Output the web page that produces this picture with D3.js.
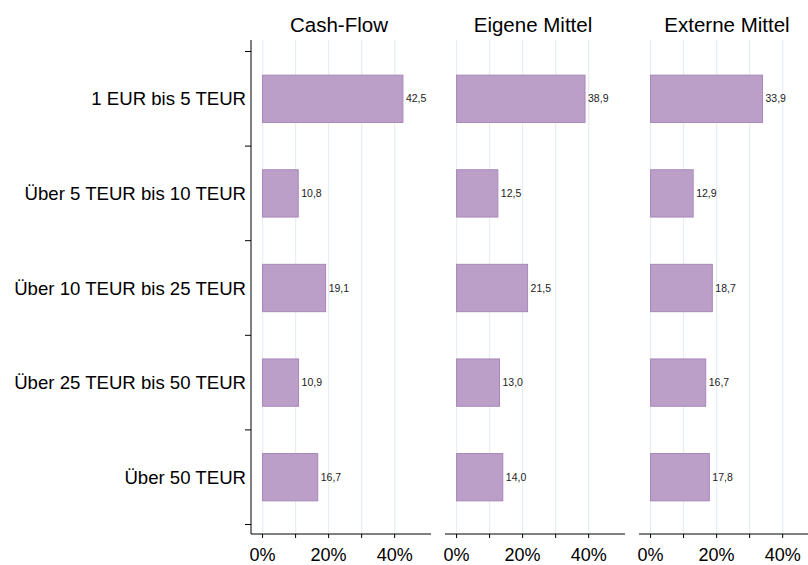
<!DOCTYPE html>
<html>
<head>
<meta charset="utf-8">
<script src="https://cdn.jsdelivr.net/npm/d3@7"></script>
<style>
body { margin: 0; background: #fff; }
svg { font-family: "Liberation Sans", Arial, sans-serif; }
</style>
</head>
<body>
<div id="chart"></div>
<script>
var categories = ["1 EUR bis 5 TEUR", "Über 5 TEUR bis 10 TEUR", "Über 10 TEUR bis 25 TEUR", "Über 25 TEUR bis 50 TEUR", "Über 50 TEUR"];
var panels = ["Cash-Flow", "Eigene Mittel", "Externe Mittel"];
var cashFlow = [42.5, 10.8, 19.1, 10.9, 16.7];
var eigeneMittel = [38.9, 12.5, 21.5, 13.0, 14.0];
var externeMittel = [33.9, 12.9, 18.7, 16.7, 17.8];
var xTicks = [0, 10, 20, 30, 40];
var xLabels = [0, 20, 40];

var series = [cashFlow, eigeneMittel, externeMittel];
var width = 808, height = 565;
var plotTop = 40, plotBottom = 534;
var panelLeft = [251, 445, 639];
var panelW = 180;

var svg = d3.select("#chart").append("svg")
	.attr("width", width)
	.attr("height", height);

var y = d3.scaleBand()
	.domain(categories)
	.range([plotTop + 11.5, plotBottom - 9.5])
	.paddingInner(0.5)
	.paddingOuter(0.25);

var fmt = function(v) { return d3.format(".1f")(v).replace(".", ","); };

panels.forEach(function(name, p) {
	var x = d3.scaleLinear().domain([-3.5, 51]).range([panelLeft[p], panelLeft[p] + panelW]);
	var g = svg.append("g");

	// grid
	g.selectAll("line.grid")
		.data(xTicks)
		.enter().append("line")
		.attr("x1", d => x(d)).attr("x2", d => x(d))
		.attr("y1", plotTop).attr("y2", plotBottom)
		.attr("stroke", "#e6eef2")
		.attr("stroke-width", 1.3);

	// bars
	g.selectAll("rect")
		.data(series[p])
		.enter().append("rect")
		.attr("x", x(0))
		.attr("y", (d, i) => y(categories[i]))
		.attr("width", d => x(d) - x(0))
		.attr("height", y.bandwidth())
		.attr("fill", "#bb9fc8")
		.attr("stroke", "#a887bb")
		.attr("stroke-width", 1);

	g.selectAll("text.val")
		.data(series[p])
		.enter().append("text")
		.attr("x", d => x(d) + 3)
		.attr("y", (d, i) => y(categories[i]) + y.bandwidth() / 2)
		.attr("dy", "0.35em")
		.attr("font-size", 10.5)
		.attr("fill", "#222")
		.text(fmt);

	// x axis
	g.append("line")
		.attr("x1", x.range()[0]).attr("x2", x.range()[1])
		.attr("y1", plotBottom).attr("y2", plotBottom)
		.attr("stroke", "#000").attr("stroke-width", 1);
	g.selectAll("line.tick")
		.data(xTicks)
		.enter().append("line")
		.attr("x1", d => x(d)).attr("x2", d => x(d))
		.attr("y1", plotBottom).attr("y2", plotBottom + 4)
		.attr("stroke", "#000");
	g.selectAll("text.tl")
		.data(xLabels)
		.enter().append("text")
		.attr("x", d => x(d))
		.attr("y", 561)
		.attr("text-anchor", "middle")
		.attr("font-size", 18)
		.text(d => d + "%");

	// title
	g.append("text")
		.attr("x", x.range()[0] + panelW / 2 - 2)
		.attr("y", 32)
		.attr("text-anchor", "middle")
		.attr("font-size", 20.5)
		.text(name);
});

// y axis
var ya = svg.append("g");
ya.append("line")
	.attr("x1", panelLeft[0]).attr("x2", panelLeft[0])
	.attr("y1", plotTop).attr("y2", plotBottom)
	.attr("stroke", "#000");
var step = y.step();
var bounds = categories.map(c => y(c) - (step - y.bandwidth()) / 2);
bounds.push(bounds[bounds.length - 1] + step);
ya.selectAll("line.tick")
	.data(bounds)
	.enter().append("line")
	.attr("x1", panelLeft[0] - 6).attr("x2", panelLeft[0])
	.attr("y1", d => d).attr("y2", d => d)
	.attr("stroke", "#000");
ya.selectAll("text")
	.data(categories)
	.enter().append("text")
	.attr("x", panelLeft[0] - 5)
	.attr("y", d => y(d) + y.bandwidth() / 2)
	.attr("dy", "0.35em")
	.attr("text-anchor", "end")
	.attr("font-size", 18.6)
	.text(d => d);
</script>
</body>
</html>
